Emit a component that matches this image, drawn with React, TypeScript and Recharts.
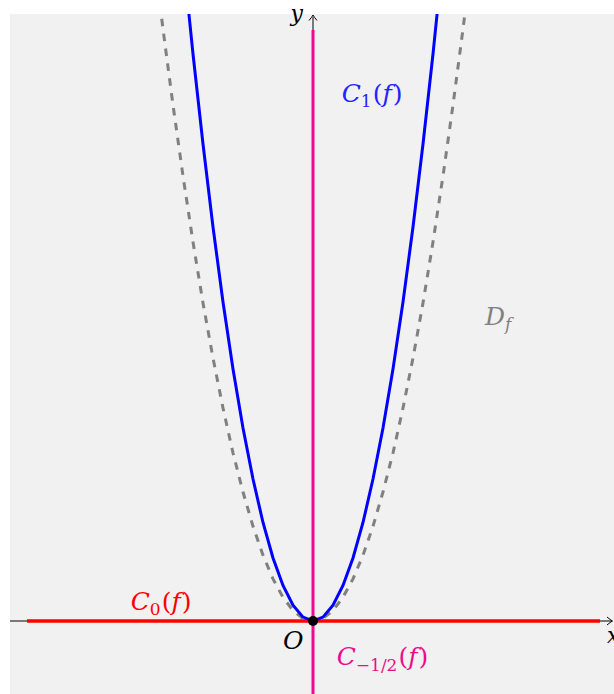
import React from "react";
import { ComposedChart, Line, XAxis, YAxis, CartesianGrid, ReferenceDot } from "recharts";

// Curve C1(f) (blue) (1 unit = 100 px)
const blueX = [-1.25, -1.2, -1.1, -1.0, -0.9, -0.8, -0.7, -0.6, -0.5, -0.4, -0.3, -0.2, -0.1, 0, 0.1, 0.2, 0.3, 0.4, 0.5, 0.6, 0.7, 0.8, 0.9, 1.0, 1.1, 1.2, 1.25];
const blueY = [6.16, 5.67, 4.77, 3.94, 3.19, 2.52, 1.93, 1.42, 0.985, 0.63, 0.355, 0.158, 0.039, 0, 0.039, 0.158, 0.355, 0.63, 0.985, 1.42, 1.93, 2.52, 3.19, 3.94, 4.77, 5.67, 6.16];

// Curve D_f (gray dashed)
const dashX = [-1.55, -1.5, -1.4, -1.3, -1.2, -1.1, -1.0, -0.9, -0.8, -0.7, -0.6, -0.5, -0.4, -0.3, -0.2, -0.1, 0, 0.1, 0.2, 0.3, 0.4, 0.5, 0.6, 0.7, 0.8, 0.9, 1.0, 1.1, 1.2, 1.3, 1.4, 1.5, 1.55];
const dashY = [6.32, 5.92, 5.16, 4.45, 3.79, 3.18, 2.63, 2.13, 1.68, 1.29, 0.947, 0.658, 0.421, 0.237, 0.105, 0.026, 0, 0.026, 0.105, 0.237, 0.421, 0.658, 0.947, 1.29, 1.68, 2.13, 2.63, 3.18, 3.79, 4.45, 5.16, 5.92, 6.32];

// C0(f): horizontal segment on the x axis
const c0X = [-2.86, 2.87];
const c0Y = [0, 0];

// C_{-1/2}(f): vertical segment on the y axis
const cHalfX = [0, 0];
const cHalfY = [-0.73, 5.91];

const toPts = (xs: number[], ys: number[]) => xs.map((x, i) => ({ x, y: ys[i] }));

const X_DOMAIN: [number, number] = [-3.03, 3.01];
const Y_DOMAIN: [number, number] = [-0.73, 6.07];
const xAxisPts = toPts([-3.03, 2.99], [0, 0]);
const yAxisPts = toPts([0, 0], [-0.73, 6.04]);

const FONT = "'DejaVu Serif', 'Liberation Serif', serif";
const BLUE_TXT = "#2323ff";
const RED = "#ff0000";
const MAGENTA = "#ec0c8c";
const GRAY = "#808080";

const arrowShape = (angle: number) => (p: any) => (
  <path
    d="M -4 5.5 Q -1 2 0 0 Q 1 2 4 5.5"
    transform={`translate(${p.cx},${p.cy}) rotate(${angle})`}
    fill="none"
    stroke="#000"
    strokeWidth={1}
  />
);

const textShape = (render: (x: number, y: number) => React.ReactElement) => (p: any) => render(p.cx, p.cy);

const label = (
  x: number,
  y: number,
  color: string,
  main: string,
  sub: string | null,
  tail: boolean,
  opts: { size?: number; subSize?: number; subDy?: number; subItalic?: boolean } = {}
) => {
  const size = opts.size ?? 25;
  const subSize = opts.subSize ?? 17;
  const subDy = opts.subDy ?? 5;
  return (
    <text x={x} y={y} fill={color} fontFamily={FONT} fontSize={size}>
      <tspan fontStyle="italic">{main}</tspan>
      {sub !== null ? (
        <tspan fontSize={subSize} dy={subDy} fontStyle={opts.subItalic ? "italic" : "normal"}>
          {sub}
        </tspan>
      ) : null}
      {tail ? (
        <>
          <tspan dy={sub !== null ? -subDy : 0} dx={1}>(</tspan>
          <tspan fontStyle="italic">f</tspan>
          <tspan dx={1}>)</tspan>
        </>
      ) : null}
    </text>
  );
};

export default function App() {
  return (
    <div style={{ position: "absolute", left: 0, top: 0 }}>
      <ComposedChart width={614} height={694} margin={{ top: 14, right: 0, bottom: 0, left: 10 }}>
        <CartesianGrid fill="#f1f1f1" horizontal={false} vertical={false} />
        <XAxis type="number" dataKey="x" domain={X_DOMAIN} allowDataOverflow hide />
        <YAxis type="number" dataKey="y" domain={Y_DOMAIN} allowDataOverflow hide />
        <Line data={xAxisPts} dataKey="y" stroke="#000" strokeWidth={1} dot={false} isAnimationActive={false} />
        <Line data={yAxisPts} dataKey="y" stroke="#000" strokeWidth={1} dot={false} isAnimationActive={false} />
        <Line
          data={toPts(dashX, dashY)}
          dataKey="y"
          stroke={GRAY}
          strokeWidth={3}
          strokeDasharray="7.5 7.5"
          dot={false}
          isAnimationActive={false}
        />
        <Line data={toPts(c0X, c0Y)} dataKey="y" stroke={RED} strokeWidth={3.5} dot={false} isAnimationActive={false} />
        <Line data={toPts(cHalfX, cHalfY)} dataKey="y" stroke={MAGENTA} strokeWidth={3} dot={false} isAnimationActive={false} />
        <Line data={toPts(blueX, blueY)} dataKey="y" stroke="#0000ff" strokeWidth={3} dot={false} isAnimationActive={false} />
        <ReferenceDot x={0} y={0} r={5} fill="#000" stroke="none" />
        <ReferenceDot x={2.995} y={0} shape={arrowShape(90)} />
        <ReferenceDot x={0} y={6.06} shape={arrowShape(0)} />
        <ReferenceDot x={0.287} y={5.19} shape={textShape((x, y) => label(x, y, BLUE_TXT, "C", "1", true))} />
        <ReferenceDot x={-1.823} y={0.11} shape={textShape((x, y) => label(x, y, RED, "C", "0", true))} />
        <ReferenceDot x={0.237} y={-0.44} shape={textShape((x, y) => label(x, y, MAGENTA, "C", "−1/2", true, { subDy: 6 }))} />
        <ReferenceDot x={1.72} y={2.96} shape={textShape((x, y) => label(x, y, GRAY, "D", "f", false, { subItalic: true }))} />
        <ReferenceDot x={-0.3} y={-0.28} shape={textShape((x, y) => label(x, y, "#000", "O", null, false))} />
        <ReferenceDot x={-0.225} y={6.0} shape={textShape((x, y) => label(x, y, "#000", "y", null, false, { size: 22 }))} />
        <ReferenceDot x={2.94} y={-0.22} shape={textShape((x, y) => label(x, y, "#000", "x", null, false, { size: 22 }))} />
      </ComposedChart>
    </div>
  );
}
